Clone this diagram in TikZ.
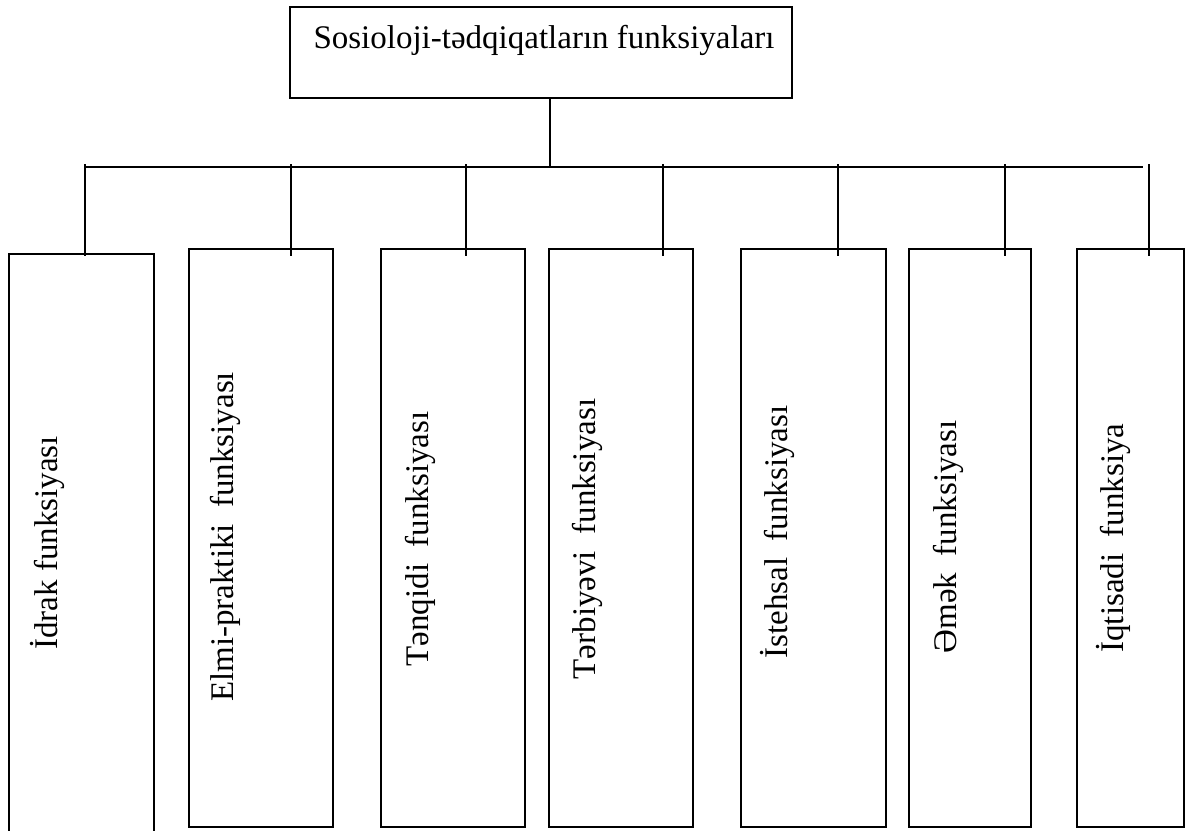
\documentclass[tikz,border=0pt]{standalone}
\usepackage{fontspec}
\setmainfont{Liberation Serif}
\begin{document}
\begin{tikzpicture}[x=1pt,y=-1pt,
  fbox/.style={draw, line width=1.6pt, inner sep=0pt, outer sep=0pt},
  conn/.style={line width=1.6pt},
  lab/.style={rotate=90, inner sep=0pt, font=\fontsize{33}{40}\selectfont},
  ttl/.style={inner sep=0pt, font=\fontsize{33}{40}\selectfont}]
\useasboundingbox (0,0) rectangle (1188,830);
\fill[white] (0,0) rectangle (1188,830);
% top box
\node[fbox, minimum width=502pt, minimum height=91pt] (top) at (541,52.5) {};
\node[ttl, anchor=base] (title) at (544,48) {Sosioloji-tədqiqatların funksiyaları};
% boxes
\node[fbox, minimum width=145pt, minimum height=590pt] (b1) at (81.5,549) {};
\node[fbox, minimum width=144pt, minimum height=578pt] (b2) at (261,538) {};
\node[fbox, minimum width=144pt, minimum height=578pt] (b3) at (453,538) {};
\node[fbox, minimum width=144pt, minimum height=578pt] (b4) at (621,538) {};
\node[fbox, minimum width=145pt, minimum height=578pt] (b5) at (813.5,538) {};
\node[fbox, minimum width=122pt, minimum height=578pt] (b6) at (970,538) {};
\node[fbox, minimum width=107pt, minimum height=578pt] (b7) at (1130.5,538) {};
% labels
\node[lab] (l1) at (47,543) {İdrak funksiyası};
\node[lab] (l2) at (225,537) {Elmi-praktiki\ \ funksiyası};
\node[lab] (l3) at (420,539) {Tənqidi\ \ funksiyası};
\node[lab] (l4) at (587,539) {Tərbiyəvi\ \ funksiyası};
\node[lab] (l5) at (777,532) {İstehsal\ \ funksiyası};
\node[lab] (l6) at (948,537) {Əmək\ \ funksiyası};
\node[lab] (l7) at (1113,538) {İqtisadi\ \ funksiya};
% bus coordinates
\coordinate (busL) at (85,167);
\coordinate (busR) at (1143,167);
\coordinate (busM) at (550,167);
\coordinate (t1) at (85,164);   \coordinate (e1) at (85,256);
\coordinate (t2) at (291,164);  \coordinate (e2) at (291,256);
\coordinate (t3) at (466,164);  \coordinate (e3) at (466,256);
\coordinate (t4) at (663,164);  \coordinate (e4) at (663,256);
\coordinate (t5) at (838,164);  \coordinate (e5) at (838,256);
\coordinate (t6) at (1005,164); \coordinate (e6) at (1005,256);
\coordinate (t7) at (1149,164); \coordinate (e7) at (1149,256);
% connectors
\draw[conn] (top.south -| busM) -- (busM);
\draw[conn] (busL) -- (busR);
\foreach \i in {1,...,7}{\draw[conn] (t\i) -- (e\i);}
\end{tikzpicture}
\end{document}
